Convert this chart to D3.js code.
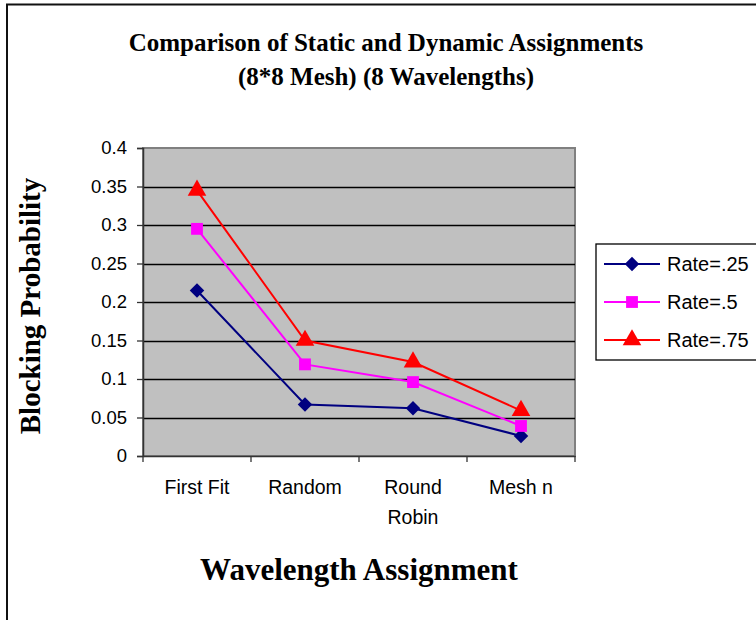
<!DOCTYPE html>
<html>
<head>
<meta charset="utf-8">
<script src="https://cdn.jsdelivr.net/npm/d3@7/dist/d3.min.js"></script>
<style>
  html, body { margin: 0; padding: 0; background: #fff; }
  svg { display: block; }
</style>
</head>
<body>
<svg id="chart" width="756" height="620"></svg>
<script>
// Wavelength assignment strategies and blocking probability per arrival rate
const categories = [["First Fit"], ["Random"], ["Round", "Robin"], ["Mesh n"]];
const categoryKeys = ["First Fit", "Random", "Round Robin", "Mesh n"];
const seriesNames = ["Rate=.25", "Rate=.5", "Rate=.75"];
const rate25 = [0.215, 0.067, 0.062, 0.026];
const rate5  = [0.295, 0.119, 0.096, 0.039];
const rate75 = [0.345, 0.150, 0.122, 0.059];
const yTicks = [0, 0.05, 0.1, 0.15, 0.2, 0.25, 0.3, 0.35, 0.4];
const yTickLabels = ["0", "0.05", "0.1", "0.15", "0.2", "0.25", "0.3", "0.35", "0.4"];

const colors = ["#000080", "#FF00FF", "#FF0000"];
const seriesValues = [rate25, rate5, rate75];

// Marker shapes: square rotated into a diamond, square, triangle
const diamond = d3.symbol().type(d3.symbolSquare).size(105)();
const square = d3.symbol().type(d3.symbolSquare).size(140)();
const triangle = d3.symbol().type(d3.symbolTriangle).size(150)();
const markerPaths = [diamond, square, triangle];
const markerRotate = [45, 0, 0];

const svg = d3.select("#chart");
const plot = { left: 143, right: 575, top: 148, bottom: 456 };

// Outer chart frame (extends past the right and bottom edges)
svg.append("rect")
  .attr("x", 7).attr("y", 4.5)
  .attr("width", 800).attr("height", 700)
  .attr("fill", "#fff")
  .attr("stroke", "#111").attr("stroke-width", 2);

const x = d3.scaleBand().domain(categoryKeys).range([plot.left, plot.right]);
const y = d3.scaleLinear().domain([0, 0.4]).range([plot.bottom, plot.top]);

// Plot area
svg.append("rect")
  .attr("x", plot.left).attr("y", plot.top)
  .attr("width", plot.right - plot.left).attr("height", plot.bottom - plot.top)
  .attr("fill", "#C0C0C0")
  .attr("stroke", "#808080").attr("stroke-width", 2);

// Horizontal gridlines
svg.append("g")
  .selectAll("line")
  .data(yTicks.filter(d => d > 0 && d < 0.4))
  .join("line")
  .attr("x1", plot.left).attr("x2", plot.right)
  .attr("y1", d => Math.round(y(d)) + 0.5).attr("y2", d => Math.round(y(d)) + 0.5)
  .attr("stroke", "#000").attr("stroke-width", 1.3);

// Y axis
const yAxis = d3.axisLeft(y)
  .tickValues(yTicks)
  .tickFormat((d, i) => yTickLabels[i])
  .tickSize(6).tickPadding(10);
const gy = svg.append("g").attr("transform", `translate(${plot.left},0)`).call(yAxis);
gy.select(".domain").attr("stroke", "#333").attr("stroke-width", 1.5);
gy.selectAll(".tick line").attr("stroke", "#333").attr("stroke-width", 1.3);
gy.selectAll(".tick text")
  .attr("font-family", "'Liberation Sans', Arial, sans-serif")
  .attr("font-size", 18.5).attr("fill", "#000");

// X axis with ticks at category boundaries
const xAxis = d3.axisBottom(x).tickSize(0).tickFormat("");
const gx = svg.append("g").attr("transform", `translate(0,${plot.bottom})`).call(xAxis);
gx.select(".domain").attr("stroke", "#333").attr("stroke-width", 1.5);
const bounds = categoryKeys.map(k => x(k)).concat([x.range()[1]]);
gx.selectAll(".boundary")
  .data(bounds)
  .join("line")
  .attr("class", "boundary")
  .attr("x1", d => d).attr("x2", d => d)
  .attr("y1", 0).attr("y2", 6)
  .attr("stroke", "#333").attr("stroke-width", 1.3);

// Category labels (multi-line)
const catLabels = svg.append("g")
  .attr("font-family", "'Liberation Sans', Arial, sans-serif")
  .attr("font-size", 19.5).attr("fill", "#000").attr("text-anchor", "middle");
categoryKeys.forEach((k, i) => {
  const t = catLabels.append("text")
    .attr("x", x(k) + x.bandwidth() / 2)
    .attr("y", 494);
  categories[i].forEach((line, j) => {
    t.append("tspan")
      .attr("x", x(k) + x.bandwidth() / 2)
      .attr("dy", j === 0 ? 0 : 30)
      .text(line);
  });
});

// Series lines and markers
const lineGen = d3.line()
  .x((d, i) => x(categoryKeys[i]) + x.bandwidth() / 2)
  .y(d => y(d));

seriesValues.forEach((vals, s) => {
  svg.append("path")
    .datum(vals)
    .attr("d", lineGen)
    .attr("fill", "none")
    .attr("stroke", colors[s]).attr("stroke-width", 2);
  svg.append("g")
    .selectAll("path")
    .data(vals)
    .join("path")
    .attr("transform", (d, i) => `translate(${x(categoryKeys[i]) + x.bandwidth() / 2},${y(d)}) rotate(${markerRotate[s]})`)
    .attr("d", markerPaths[s])
    .attr("fill", colors[s]);
});

// Titles
const title = svg.append("text")
  .attr("font-family", "'Liberation Serif', 'Times New Roman', serif")
  .attr("font-weight", "bold").attr("font-size", 25)
  .attr("text-anchor", "middle").attr("fill", "#000");
title.append("tspan").attr("x", 386).attr("y", 51).text("Comparison of Static and Dynamic Assignments");
title.append("tspan").attr("x", 386).attr("y", 85).text("(8*8 Mesh) (8 Wavelengths)");

svg.append("text")
  .attr("x", 359).attr("y", 580)
  .attr("font-family", "'Liberation Serif', 'Times New Roman', serif")
  .attr("font-weight", "bold").attr("font-size", 31)
  .attr("text-anchor", "middle").attr("fill", "#000")
  .text("Wavelength Assignment");

svg.append("text")
  .attr("transform", `translate(40,${(plot.top + plot.bottom) / 2 + 4}) rotate(-90)`)
  .attr("font-family", "'Liberation Serif', 'Times New Roman', serif")
  .attr("font-weight", "bold").attr("font-size", 29)
  .attr("text-anchor", "middle").attr("fill", "#000")
  .text("Blocking Probability");

// Legend
const legend = svg.append("g");
legend.append("rect")
  .attr("x", 596).attr("y", 244)
  .attr("width", 200).attr("height", 116)
  .attr("fill", "#fff").attr("stroke", "#000").attr("stroke-width", 1.3);
const legendRows = [264, 302, 340];
seriesNames.forEach((name, s) => {
  const ly = legendRows[s];
  legend.append("line")
    .attr("x1", 604).attr("x2", 660).attr("y1", ly).attr("y2", ly)
    .attr("stroke", colors[s]).attr("stroke-width", 2);
  legend.append("path")
    .attr("transform", `translate(632,${ly}) rotate(${markerRotate[s]})`)
    .attr("d", markerPaths[s])
    .attr("fill", colors[s]);
  legend.append("text")
    .attr("x", 667).attr("y", ly)
    .attr("dy", "0.35em")
    .attr("font-family", "'Liberation Sans', Arial, sans-serif")
    .attr("font-size", 20).attr("fill", "#000")
    .text(name);
});
</script>
</body>
</html>
